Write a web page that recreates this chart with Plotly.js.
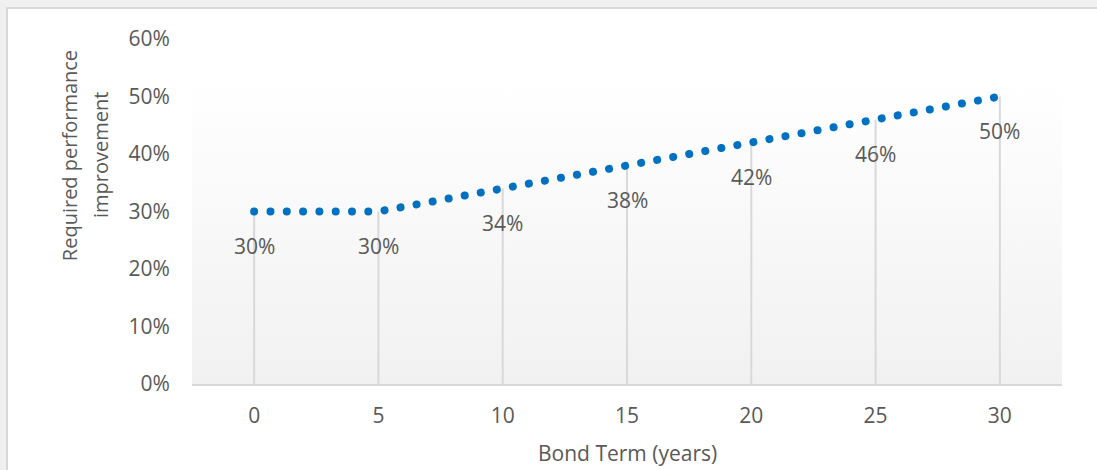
<!DOCTYPE html>
<html>
<head>
<meta charset="utf-8">
<script src="https://cdn.plot.ly/plotly-3.0.1.min.js"></script>
<style>
  html, body { margin: 0; padding: 0; width: 1097px; height: 470px; overflow: hidden; background: #f0f0f0; }
  #frame { position: absolute; left: 6px; top: 7px; width: 1091px; height: 463px;
           border-left: 2px solid #d9d9d9; border-top: 2px solid #d9d9d9; background: #ffffff; }
  #chart { width: 1089px; height: 461px; }
  .js-line { stroke-linecap: round !important; }
</style>
</head>
<body>
<div id="frame"><div id="chart"></div></div>
<script>
// ---- data ----
const termYears = ['0', '5', '10', '15', '20', '25', '30'];
const improvement = [0.30, 0.30, 0.34, 0.38, 0.42, 0.46, 0.50];
const xTitle = 'Bond Term (years)';
const yTitleLines = ['Required performance', 'improvement'];

const fontFamily = '"Open Sans", "Segoe UI", Arial, sans-serif';
const textColor = '#595959';

const dropLines = {
  x: termYears, y: improvement, type: 'scatter', mode: 'markers',
  marker: { size: 1, opacity: 0 },
  error_y: { type: 'data', symmetric: false, array: improvement.map(() => 0),
             arrayminus: improvement, color: '#d9d9d9', thickness: 2, width: 0 },
  hoverinfo: 'skip', showlegend: false
};

const series = {
  x: termYears, y: improvement, type: 'scatter', mode: 'lines',
  line: { color: '#0070C0', width: 8, dash: '0.01px,16.3px' },
  showlegend: false
};

const gradSvg = "<svg xmlns='http://www.w3.org/2000/svg' width='100' height='100' preserveAspectRatio='none'>" +
  "<defs><linearGradient id='g' x1='0' y1='0' x2='0' y2='1'>" +
  "<stop offset='0' stop-color='#ffffff'/><stop offset='0.12' stop-color='#ffffff'/><stop offset='1' stop-color='#f1f1f1'/>" +
  "</linearGradient></defs><rect width='100' height='100' fill='url(#g)'/></svg>";

// annotations on a category axis use the category index
const annotations = termYears.map((t, i) => ({
  x: i, y: improvement[i], xref: 'x', yref: 'y',
  text: Math.round(improvement[i] * 100) + '%', showarrow: false,
  yshift: -34, font: { family: fontFamily, size: 21, color: textColor }
}));

annotations.push({
  xref: 'paper', yref: 'paper', x: -0.1415, y: 0.663, xanchor: 'center', yanchor: 'middle',
  text: yTitleLines[0], textangle: -90, showarrow: false,
  font: { family: fontFamily, size: 20, color: textColor }
});
annotations.push({
  xref: 'paper', yref: 'paper', x: -0.106, y: 0.663, xanchor: 'center', yanchor: 'middle',
  text: yTitleLines[1], textangle: -90, showarrow: false,
  font: { family: fontFamily, size: 20, color: textColor }
});
annotations.push({
  xref: 'paper', yref: 'paper', x: 0.5, y: -0.2, xanchor: 'center', yanchor: 'middle',
  text: xTitle, showarrow: false,
  font: { family: fontFamily, size: 21, color: textColor }
});

const layout = {
  width: 1089, height: 461,
  margin: { l: 184, r: 35, t: 30, b: 86 },
  paper_bgcolor: 'rgba(0,0,0,0)', plot_bgcolor: 'rgba(0,0,0,0)',
  font: { family: fontFamily, size: 21, color: textColor },
  xaxis: {
    type: 'category', range: [-0.5, 6.5], showgrid: false, zeroline: false,
    showline: true, linecolor: '#d9d9d9', linewidth: 2,
    ticks: 'outside', ticklen: 12, tickcolor: 'rgba(0,0,0,0)',
    tickfont: { family: fontFamily, size: 21, color: textColor }
  },
  yaxis: {
    range: [0, 0.6], dtick: 0.1, tickformat: '.0%', showgrid: false, zeroline: false,
    showline: false, ticks: 'outside', ticklen: 17, tickcolor: 'rgba(0,0,0,0)',
    tickfont: { family: fontFamily, size: 21, color: textColor }
  },
  images: [{
    source: 'data:image/svg+xml;charset=utf-8,' + encodeURIComponent(gradSvg),
    xref: 'paper', yref: 'paper', x: 0, y: 1, sizex: 1, sizey: 1,
    xanchor: 'left', yanchor: 'top', sizing: 'stretch', layer: 'below'
  }],
  annotations: annotations,
  showlegend: false
};

Plotly.newPlot('chart', [dropLines, series], layout, { staticPlot: true, displayModeBar: false });
</script>
</body>
</html>
